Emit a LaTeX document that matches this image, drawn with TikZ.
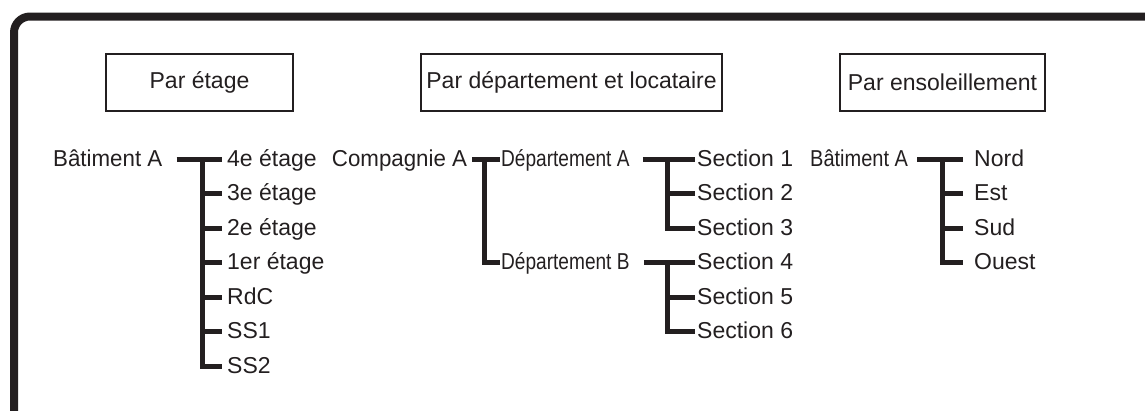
\documentclass[tikz,border=0pt]{standalone}
\usepackage{fontspec}
\setmainfont{Liberation Sans}
\definecolor{fg}{HTML}{231F20}
\begin{document}
\begin{tikzpicture}[x=1pt,y=-1pt,
  every node/.style={text=fg, font=\fontsize{23}{27}\selectfont},
  lbl/.style={anchor=west, inner sep=0pt, text height=16pt, text depth=2pt},
  hdr/.style={draw=fg, line width=1.8pt, minimum height=57pt, inner sep=0pt},
  tree/.style={draw=fg, line width=5pt, line cap=butt, line join=miter},
  frame/.style={draw=fg, line width=8pt, rounded corners=16pt}]
\useasboundingbox (0,0) rectangle (1145,410);
\clip (0,0) rectangle (1145,410);
\draw[frame] (14,16.5) rectangle (1170,430);

% headers
\node[hdr, minimum width=187pt] (h1) at (199.5,82.5) {Par étage};
\node[hdr, minimum width=301pt] (h2) at (571.5,82.5) {Par département et locataire};
\node[hdr, minimum width=205pt] (h3) at (942.5,82.5) {Par ensoleillement};

% tree 1
\node[lbl] (b1) at (53,159) {\scalebox{0.97}[1]{Bâtiment A}};
\node[lbl] (e4) at (227,159) {4e étage};
\node[lbl] (e3) at (227,193.5) {3e étage};
\node[lbl] (e2) at (227,228) {2e étage};
\node[lbl] (e1) at (227,262.5) {1er étage};
\node[lbl] (rdc) at (227,297) {RdC};
\node[lbl] (ss1) at (227,331.5) {SS1};
\node[lbl] (ss2) at (227,366) {SS2};
\coordinate (s1) at (202,159);
\draw[tree] ([xshift=14pt]b1.east) -- ([xshift=-5pt]e4.west);
\draw[tree] (s1) |- ([xshift=-5pt]ss2.west);
\foreach \n in {e3,e2,e1,rdc,ss1}
  \draw[tree] (s1 |- \n.west) -- ([xshift=-5pt]\n.west);

% tree 2
\node[lbl] (ca) at (331.7,159) {\scalebox{0.97}[1]{Compagnie A}};
\node[lbl] (da) at (501,159) {\scalebox{0.83}[1]{Département A}};
\node[lbl] (db) at (501,262.5) {\scalebox{0.83}[1]{Département B}};
\node[lbl] (sc1) at (697,159) {Section 1};
\node[lbl] (sc2) at (697,193.5) {Section 2};
\node[lbl] (sc3) at (697,228) {Section 3};
\node[lbl] (sc4) at (697,262.5) {Section 4};
\node[lbl] (sc5) at (697,297) {Section 5};
\node[lbl] (sc6) at (697,331.5) {Section 6};
\coordinate (s2) at (484.5,159);
\draw[tree] ([xshift=5pt]ca.east) -- ([xshift=-1pt]da.west);
\draw[tree] (s2) |- ([xshift=-1pt]db.west);
\coordinate (s3) at (667,159);
\draw[tree] ([xshift=13pt]da.east) -- ([xshift=-2pt]sc1.west);
\draw[tree] (s3) |- ([xshift=-2pt]sc3.west);
\draw[tree] (s3 |- sc2.west) -- ([xshift=-2pt]sc2.west);
\coordinate (s4) at (667,262.5);
\draw[tree] ([xshift=14pt]db.east) -- ([xshift=-2pt]sc4.west);
\draw[tree] (s4) |- ([xshift=-2pt]sc6.west);
\draw[tree] (s4 |- sc5.west) -- ([xshift=-2pt]sc5.west);

% tree 3
\node[lbl] (b3) at (810,159) {\scalebox{0.87}[1]{Bâtiment A}};
\node[lbl] (no) at (974,159) {Nord};
\node[lbl] (es) at (974,193.5) {Est};
\node[lbl] (su) at (974,228) {Sud};
\node[lbl] (ou) at (974,262.5) {Ouest};
\coordinate (s5) at (942,159);
\draw[tree] ([xshift=9pt]b3.east) -- ([xshift=-11pt]no.west);
\draw[tree] (s5) |- ([xshift=-11pt]ou.west);
\foreach \n in {es,su}
  \draw[tree] (s5 |- \n.west) -- ([xshift=-11pt]\n.west);
\end{tikzpicture}
\end{document}
